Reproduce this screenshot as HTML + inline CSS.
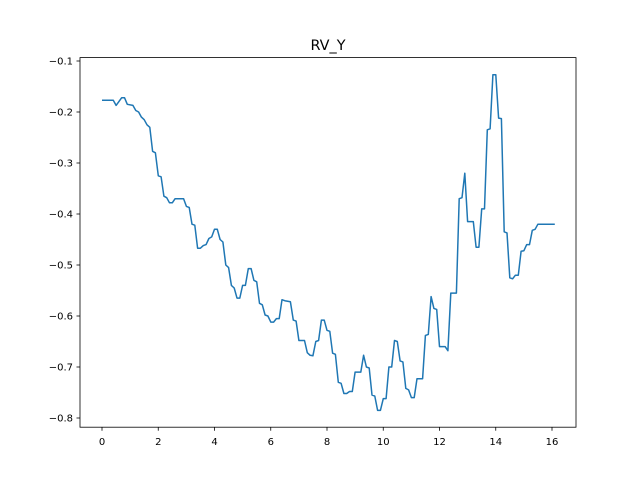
<!DOCTYPE html>
<html><head><meta charset="utf-8"><style>
body{margin:0;background:#fff}
svg{display:block;font-family:"DejaVu Sans","Liberation Sans",sans-serif}
</style></head><body>
<svg id="c" width="640" height="480">
<rect width="640" height="480" fill="#fff"/>
<text x="328" y="50" font-size="14.4" text-anchor="middle">RV_Y</text>
<g id="xt"></g>
<g id="yt"></g>
<path id="ln" fill="none" stroke="#1f77b4" stroke-width="1.5" stroke-linejoin="round"/>
<rect x="80" y="57.6" width="496" height="369.6" fill="none" stroke="#000" stroke-width="0.8"/>
</svg>
<script>
const xs=[0,0.4,0.5,0.7,0.8,0.9,1.1,1.2,1.3,1.4,1.5,1.6,1.7,1.8,1.9,2.0,2.1,2.2,2.3,2.4,2.5,2.6,2.9,3.0,3.1,3.2,3.3,3.4,3.5,3.6,3.7,3.8,3.9,4.0,4.1,4.2,4.3,4.4,4.5,4.6,4.7,4.8,4.9,5.0,5.1,5.2,5.3,5.4,5.5,5.6,5.7,5.8,5.9,6.0,6.1,6.2,6.3,6.4,6.5,6.7,6.8,6.9,7.0,7.2,7.3,7.4,7.5,7.6,7.7,7.8,7.9,8.0,8.1,8.2,8.3,8.4,8.5,8.6,8.7,8.8,8.9,9.0,9.2,9.3,9.4,9.5,9.6,9.7,9.8,9.9,10.0,10.1,10.2,10.3,10.4,10.5,10.6,10.7,10.8,10.9,11.0,11.1,11.2,11.4,11.5,11.6,11.7,11.8,11.9,12.0,12.2,12.3,12.4,12.6,12.7,12.8,12.9,13.0,13.2,13.3,13.4,13.5,13.6,13.7,13.8,13.9,14.0,14.1,14.2,14.3,14.4,14.5,14.6,14.7,14.8,14.9,15.0,15.1,15.2,15.3,15.4,15.5,15.6,16.1];
const ys=[-0.177,-0.177,-0.187,-0.172,-0.172,-0.185,-0.187,-0.197,-0.2,-0.21,-0.215,-0.225,-0.23,-0.277,-0.28,-0.325,-0.327,-0.365,-0.368,-0.378,-0.378,-0.37,-0.37,-0.385,-0.387,-0.42,-0.422,-0.467,-0.467,-0.462,-0.46,-0.448,-0.445,-0.43,-0.43,-0.45,-0.455,-0.5,-0.505,-0.54,-0.545,-0.565,-0.565,-0.54,-0.54,-0.507,-0.507,-0.53,-0.533,-0.575,-0.578,-0.598,-0.6,-0.612,-0.612,-0.605,-0.605,-0.568,-0.57,-0.572,-0.608,-0.61,-0.648,-0.648,-0.672,-0.677,-0.678,-0.65,-0.648,-0.608,-0.608,-0.628,-0.63,-0.673,-0.675,-0.73,-0.732,-0.752,-0.752,-0.748,-0.748,-0.71,-0.71,-0.677,-0.7,-0.702,-0.755,-0.757,-0.785,-0.785,-0.762,-0.762,-0.7,-0.7,-0.648,-0.65,-0.688,-0.69,-0.742,-0.745,-0.76,-0.76,-0.723,-0.723,-0.638,-0.636,-0.562,-0.585,-0.587,-0.66,-0.66,-0.668,-0.555,-0.555,-0.37,-0.368,-0.32,-0.415,-0.415,-0.465,-0.465,-0.39,-0.39,-0.235,-0.233,-0.127,-0.127,-0.212,-0.213,-0.435,-0.437,-0.525,-0.527,-0.52,-0.52,-0.473,-0.472,-0.46,-0.46,-0.432,-0.43,-0.42,-0.42,-0.42];
const xTicks=[0,2,4,6,8,10,12,14,16];
const yTicks=[-0.8,-0.7,-0.6,-0.5,-0.4,-0.3,-0.2,-0.1];
const X=v=>102+v*28.125;
const Y=v=>61+(-0.1-v)*510;
const NS='http://www.w3.org/2000/svg';
function mk(t,a,p){const e=document.createElementNS(NS,t);for(const k in a)e.setAttribute(k,a[k]);p.appendChild(e);return e;}
const xt=document.getElementById('xt'),yt=document.getElementById('yt');
xTicks.forEach(v=>{
 const l=mk('line',{x1:X(v),x2:X(v),y1:427.2,y2:430.7,stroke:'#000','stroke-width':0.8},xt);
 
 
 const t=mk('text',{x:X(v),y:445,'font-size':10,'text-anchor':'middle'},xt);t.textContent=v;
 
 
});
yTicks.forEach(v=>{
 const l=mk('line',{x1:76.5,x2:80,y1:Y(v),y2:Y(v),stroke:'#000','stroke-width':0.8},yt);
 
 
 const t=mk('text',{x:73,y:Y(v)+3.5,'font-size':10,'text-anchor':'end'},yt);t.textContent='\u2212'+Math.abs(v).toFixed(1);
 
 
});
document.getElementById('ln').setAttribute('d',xs.map((x,i)=>(i?'L':'M')+X(x).toFixed(1)+','+Y(ys[i]).toFixed(1)).join(''));
</script>
</body></html>
